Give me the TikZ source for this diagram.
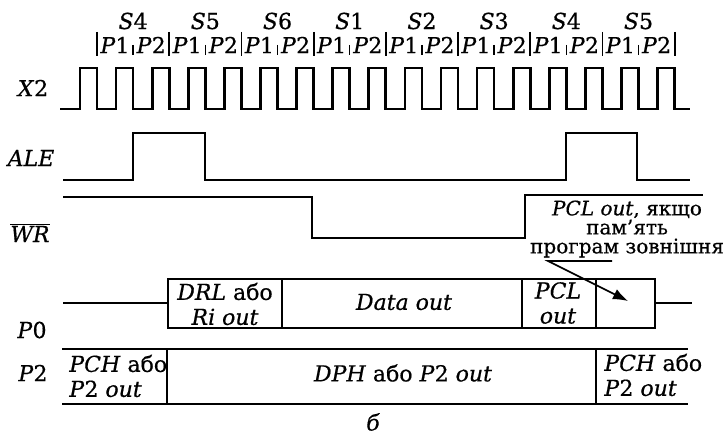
\documentclass[tikz,border=0pt]{standalone}
\usepackage{fontspec}
\setmainfont{DejaVu Serif}[UprightFeatures={FakeBold=0.6}, ItalicFeatures={FakeBold=0.6}]
\usetikzlibrary{arrows.meta}

\begin{document}
\begin{tikzpicture}[x=1pt, y=-1pt, line width=2.7pt,
  lbl/.style={font=\fontsize{22}{25}\selectfont, inner sep=0pt},
  hdr/.style={font=\fontsize{22}{24}\selectfont, inner sep=0pt},
  note/.style={font=\fontsize{20}{19}\selectfont, inner sep=0pt, align=center}]
  \useasboundingbox (0,0) rectangle (728,436);
  % state and phase header
  \foreach \s [count=\i from 0] in {4,5,6,1,2,3,4,5} {
    \node[hdr] (s\i) at ({133.1+72.2*\i},21) {\textit{S}\s};
    \node[hdr] (pa\i) at ({115+72.2*\i},45) {\textit{P}1};
    \node[hdr] (pb\i) at ({151.2+72.2*\i},45) {\textit{P}2};
    \draw[line width=1.5pt] ({133.1+72.2*\i},45) -- ++(0,10);
  }
  \foreach \i in {0,...,8} \draw[line width=1.8pt] ({97+72.2*\i},32) -- ++(0,24);
  % signal names
  \node[lbl] (x2) at (33,88) {\textit{X}2};
  \node[lbl] (ale) at (31,158) {\textit{ALE}};
  \node[lbl] (wr) at (30,233) {$\overline{\hbox{\textit{WR}}}$};
  \node[lbl] (p0) at (32,330) {\textit{P}0};
  \node[lbl] (p2) at (33,373) {\textit{P}2};
  % X2 clock
  \draw (60,109) foreach \k in {0,...,16} {
    -- ({80+36.1*\k},109) -- ({80+36.1*\k},68) -- ({97+36.1*\k},68) -- ({97+36.1*\k},109)}
    -- (690,109);
  % ALE
  \draw (63,180) -- (133,180) -- (133,133) -- (205,133) -- (205,180) -- (566,180)
    -- (566,133) -- (637,133) -- (637,180) -- (690,180);
  % WR
  \draw (63,197) -- (312,197) -- (312,238) -- (525,238) -- (525,195) -- (703,195);
  % P0
  \draw (63,303) -- (168,303);
  \draw (168,279) rectangle (655,328);
  \draw (282,279) -- (282,328) (522,279) -- (522,328) (596,279) -- (596,328);
  \draw (655,303) -- (692,303);
  \node[lbl, align=center] (drl) at (225,304) {\textit{DRL} або\\\textit{Ri out}};
  \node[lbl] (data) at (404,302) {\textit{Data out}};
  \node[lbl, align=center] (pcl) at (558,303) {\textit{PCL}\\\textit{out}};
  % P2
  \draw (62,349) -- (688,349) (62,404) -- (688,404);
  \draw (167,349) -- (167,404) (596,349) -- (596,404);
  \node[lbl, align=left, anchor=west] (pch) at (68,376) {\textit{PCH} або\\\textit{P}2 \textit{out}};
  \node[lbl] (dph) at (403,373) {\textit{DPH} або \textit{P}2 \textit{out}};
  \node[lbl, align=left, anchor=west] (pchb) at (603,375) {\textit{PCH} або\\\textit{P}2 \textit{out}};
  % note on the last P0 slot
  \node[note] (pclnote) at (627,229) {\textit{PCL out}, якщо\\пам'ять\\програм зовнішня};
  \coordinate (stub) at (612,261);
  \coordinate (lead) at (548,261);
  \coordinate (tip) at (628,301);
  \draw[line width=1.6pt, -{Latex[length=15pt, width=11pt]}] (stub) -- (lead) -- (tip);
  \node[lbl] (fig) at (373,422) {\textit{б}};
\end{tikzpicture}
\end{document}
